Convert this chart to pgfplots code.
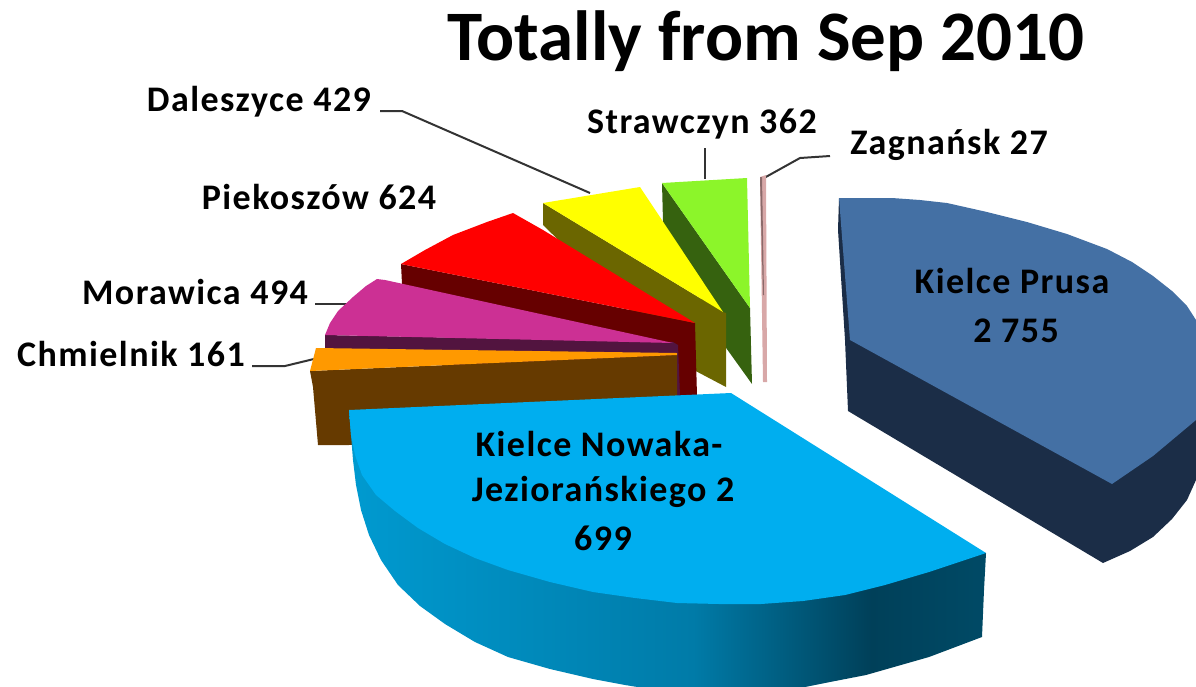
\documentclass[border=0pt]{standalone}
\usepackage{fontspec}
\setmainfont{Carlito}
\usepackage{pgfplots}
\pgfplotsset{compat=1.18}
\definecolor{prusatop}{HTML}{4470A4}
\definecolor{prusaside}{HTML}{1B2D47}
\definecolor{nowakatop}{HTML}{00AEEF}
\definecolor{nowA}{HTML}{009AD0}
\definecolor{nowB}{HTML}{007BA8}
\definecolor{nowC}{HTML}{004059}
\definecolor{nowD}{HTML}{004A66}
\definecolor{chmtop}{HTML}{FF9900}
\definecolor{chmside}{HTML}{663A00}
\definecolor{mortop}{HTML}{CC3094}
\definecolor{morside}{HTML}{52143F}
\definecolor{pietop}{HTML}{FF0000}
\definecolor{pieside}{HTML}{660000}
\definecolor{daltop}{HTML}{FFFF00}
\definecolor{dalside}{HTML}{6B6600}
\definecolor{strtop}{HTML}{8CF52A}
\definecolor{strside}{HTML}{36620F}
\definecolor{zagtop}{HTML}{D8A8A8}
\definecolor{zagside}{HTML}{8A6A6A}
\pgfdeclarehorizontalshading{nowakaside}{100bp}{color(0bp)=(nowA); color(25bp)=(nowA); color(52bp)=(nowB); color(66bp)=(nowC); color(75bp)=(nowD); color(100bp)=(nowD)}
\newcommand{\lab}{\fontsize{36}{38}\selectfont\bfseries\addfontfeature{LetterSpace=4}}
\begin{document}
\begin{tikzpicture}
\path[use as bounding box] (0,0) rectangle (1196pt,686pt);
\begin{axis}[at={(0,0)},anchor=south west,scale only axis,width=1196pt,height=686pt,
  xmin=0,xmax=1196,ymin=0,ymax=686,y dir=reverse,hide axis]
% leaders
\addplot[black!80,line width=2pt] coordinates {(380,111)(402,111)(590,193)};
\addplot[black!80,line width=2pt] coordinates {(705,148)(705,179)};
\addplot[black!80,line width=2pt] coordinates {(830,156)(800,158)(764,178)};
\addplot[black!80,line width=2pt] coordinates {(315,304)(347,304)};
\addplot[black!80,line width=2pt] coordinates {(252,366)(285,366)(318,358)};
% Zagnansk
\addplot[fill=zagtop,draw=none] coordinates {(760,177)(766,175)(767,382)(763,382)} --cycle;
\addplot[fill=zagside,draw=none] coordinates {(760,177)(762,177)(764,295)(763,295)} --cycle;
% Strawczyn
\addplot[fill=strside,draw=none] coordinates {(662,183)(750,308)(752,384)(724,345)(663,222)} --cycle;
\addplot[fill=strtop,draw=none] coordinates {(662,183)(747,178)(750,308)} --cycle;
% Daleszyce
\addplot[fill=dalside,draw=none] coordinates {(543,203)(723,312)(726,313)(726,387)(690,368)(543,225)} --cycle;
\addplot[fill=daltop,draw=none] coordinates {(543,203)(640,187)(723,312)} --cycle;
% Piekoszow
\addplot[fill=pieside,draw=none] coordinates {(401,264)(695,323)(697,396)(670,396)(402,284)} --cycle;
\addplot[fill=pietop,draw=none] coordinates {(401,264)(425,250)(453,235)(487,222)(513,213)(543,230)(695,323)} --cycle;
% Morawica
\addplot[fill=morside,draw=none] coordinates {(325,335)(673,342)(678,345)(680,396)(660,396)(325,349)} --cycle;
\addplot[fill=mortop,draw=none] coordinates {(325,335)(330,323)(338,311)(353,297)(366,286)(377,279)(385,280)(673,343)} --cycle;
% Chmielnik
\addplot[fill=chmside,draw=none] coordinates {(310,371)(677,355)(677,415)(349,445)(318,445)(313,387)} --cycle;
\addplot[fill=chmtop,draw=none] coordinates {(316,348)(677,353)(677,355)(310,371)} --cycle;
% Kielce Prusa
\addplot[fill=prusaside,draw=none] coordinates {(839,198)(838,230)(845,340)(848,411)(1103,563)(1130,551)(1153,537)(1172,519)(1187,500)(1196,480)(1196,415)(1112,483)} --cycle;
\addplot[fill=prusatop,draw=none] coordinates {(839,198)(892,198)(920,200)(947,203)(987,212)(1027,222)(1067,234)(1107,249)(1132,262)(1153,276)(1172,291)(1187,306)(1196,320)(1196,420)(1153,456)(1112,484)(850,340)} --cycle;
% Kielce Nowaka side
\addplot[shading=nowakaside,draw=none] coordinates {(349,410)(353,460)(356,485)(361,510)(369,535)(381,560)(398,585)(420,606)(445,624)(475,642)(508,657)(550,669)(593,679)(625,685)(656,690)(790,690)(830,682)(866,675)(929,657)(982,637)(984,590)(986,553)} --cycle;
\addplot[fill=nowakatop,draw=none] coordinates {(349,410)(731,393)(986,553)(929,572)(885,585)(845,595)(803,601)(761,604)(719,604)(677,603)(635,598)(593,592)(550,582)(508,570)(475,558)(445,544)(418,528)(395,511)(376,495)(362,475)(355,455)(351,435)} --cycle;
% Texts
\node[font=\fontsize{71}{73}\selectfont\bfseries] at (axis cs:766,41) {Totally from Sep 2010};
\node[font=\lab] at (axis cs:259,102) {Daleszyce 429};
\node[font=\lab] at (axis cs:319,197) {Piekoszów 624};
\node[font=\lab] at (axis cs:195,292) {Morawica 494};
\node[font=\lab] at (axis cs:131,354) {Chmielnik 161};
\node[font=\lab] at (axis cs:702,124) {Strawczyn 362};
\node[font=\lab] at (axis cs:949,145) {Zagnańsk 27};
\node[font=\lab] at (axis cs:1012,281) {Kielce Prusa};
\node[font=\lab] at (axis cs:1016,331) {2 755};
\node[font=\lab] at (axis cs:599,444) {Kielce Nowaka-};
\node[font=\lab] at (axis cs:603,492) {Jeziorańskiego 2};
\node[font=\lab] at (axis cs:603,538) {699};
\end{axis}
\end{tikzpicture}
\end{document}
